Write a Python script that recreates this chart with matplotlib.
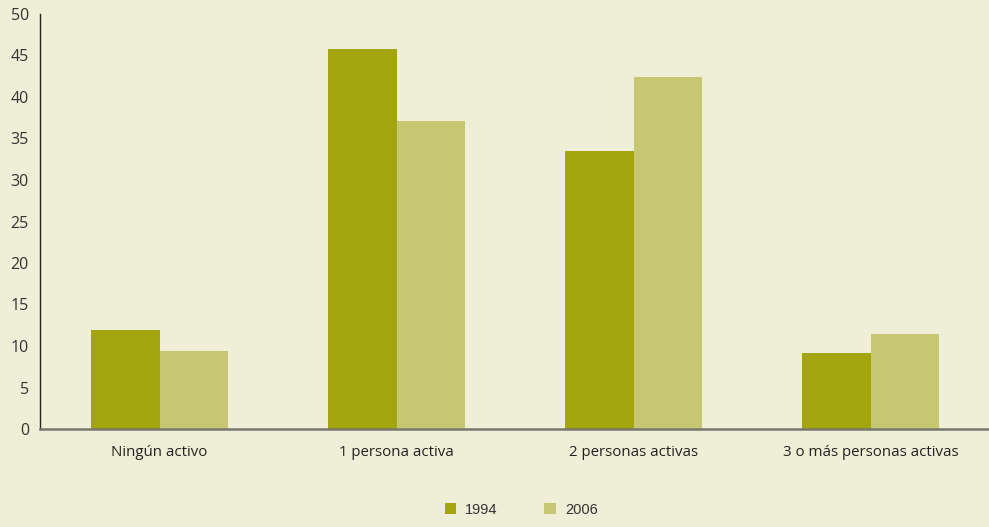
import numpy as np
import matplotlib.pyplot as plt

categorias = ['Ningún activo', '1 persona activa', '2 personas activas', '3 o más personas activas']
anios = ['1994', '2006']
v1994 = [11.9, 45.8, 33.5, 9.2]
v2006 = [9.4, 37.1, 42.4, 11.4]

bg = '#efeed6'
c1994 = '#a3a50f'
c2006 = '#c7c672'

fig = plt.figure(figsize=(9.89, 5.27), dpi=100, facecolor=bg)
ax = fig.add_axes([40/989, 98/527, 949/989, 415/527], facecolor=bg)

x = np.arange(len(categorias))
w = 0.288
ax.bar(x - w/2, v1994, w, color=c1994, label=anios[0])
ax.bar(x + w/2, v2006, w, color=c2006, label=anios[1])

ax.set_xlim(-0.505, 3.5)
ax.set_ylim(0, 50)
ax.set_yticks(range(0, 51, 5))
ax.set_xticks(x)
ax.set_xticklabels(categorias, fontfamily='Open Sans', fontsize=10.8, color='#222222')
for lab in ax.get_yticklabels():
    lab.set_fontfamily('Open Sans')
    lab.set_fontsize(11.5)
    lab.set_color('#333333')
ax.tick_params(axis='y', length=0, pad=8)
ax.tick_params(axis='x', length=0, pad=11.5)

for s in ['top', 'right']:
    ax.spines[s].set_visible(False)
ax.spines['left'].set_color('#222222')
ax.spines['left'].set_linewidth(1.0)
ax.spines['bottom'].set_color('#777770')
ax.spines['bottom'].set_linewidth(1.8)

leg = fig.legend(loc='lower center', bbox_to_anchor=(0.527, -0.005), ncol=2, frameon=False,
                 prop={'family': 'Liberation Sans', 'size': 10.5}, handlelength=0.8, handleheight=0.8,
                 columnspacing=3.2, handletextpad=0.6)
for t in leg.get_texts():
    t.set_color('#333333')

fig.savefig('out.png', dpi=100, facecolor=bg)
